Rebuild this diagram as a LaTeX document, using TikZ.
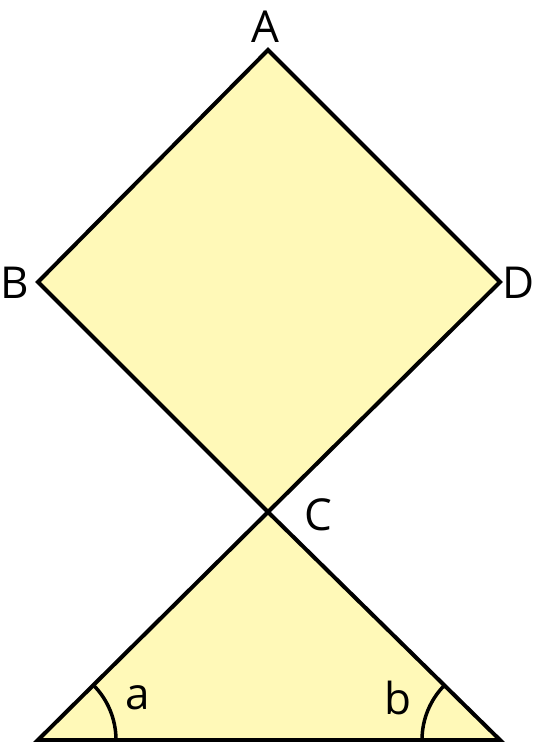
\documentclass[tikz,border=0pt]{standalone}
\usepackage{fontspec}
\setmainfont{Open Sans}
\definecolor{paleyellow}{HTML}{FFF9B8}
\begin{document}
\begin{tikzpicture}[x=1pt,y=-1pt,
  figshape/.style={fill=paleyellow,draw=black,line width=4pt,line join=miter},
  anglearc/.style={draw=black,line width=3.5pt},
  lbl/.style={font=\fontsize{44}{44}\selectfont,inner sep=0pt}]
\useasboundingbox (0,0) rectangle (537,742);
\coordinate (A) at (268,50);
\coordinate (B) at (38,282);
\coordinate (D) at (500,282);
\coordinate (C) at (268,512);
\coordinate (L) at (38,740);
\coordinate (R) at (500,740);
\path[figshape] (A) -- (B) -- (C) -- (D) -- cycle;
\path[figshape] (C) -- (L) -- (R) -- cycle;
\draw[anglearc] ([shift={(0:78)}]L) arc[start angle=0,end angle=-45,radius=78];
\draw[anglearc] ([shift={(180:78)}]R) arc[start angle=180,end angle=225,radius=78];
\node[lbl] (lA) at (265,27) {A};
\node[lbl] (lB) at (15,283) {B};
\node[lbl] (lD) at (519,283) {D};
\node[lbl] (lC) at (318,515) {C};
\node[lbl] (la) at (138,698) {a};
\node[lbl] (lb) at (398,698) {b};
\end{tikzpicture}
\end{document}
